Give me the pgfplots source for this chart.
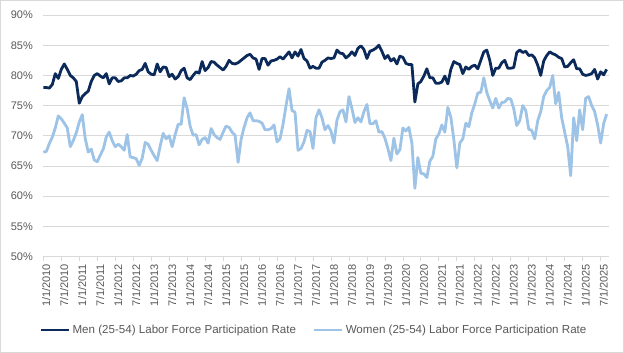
\documentclass[border=0pt]{standalone}
\usepackage{fontspec}
\setmainfont{Liberation Sans}
\usepackage{pgfplots}
\usepackage{pgfplotstable}
\pgfplotsset{compat=1.18}
\definecolor{men}{HTML}{0B2A5A}
\definecolor{women}{HTML}{9DC3E6}
\definecolor{gridc}{HTML}{D9D9D9}
\definecolor{txt}{HTML}{595959}

\pgfplotstableread{
m v
0 78.0
1 78.0
2 77.9
3 78.5
4 80.3
5 79.5
6 81.0
7 81.9
8 81.0
9 80.0
10 79.6
11 79.0
12 75.4
13 76.5
14 77.0
15 77.4
16 79.0
17 80.0
18 80.3
19 79.9
20 79.6
21 80.3
22 78.6
23 79.6
24 79.6
25 79.0
26 79.1
27 79.6
28 79.6
29 80.0
30 79.9
31 80.2
32 80.8
33 81.0
34 82.0
35 80.6
36 80.2
37 80.1
38 81.9
39 80.6
40 81.4
41 81.3
42 79.8
43 80.2
44 79.4
45 79.8
46 80.8
47 81.2
48 79.6
49 79.3
50 80.0
51 80.6
52 80.4
53 82.3
54 80.8
55 81.3
56 82.3
57 82.2
58 81.7
59 81.3
60 80.9
61 81.5
62 82.5
63 82.0
64 81.9
65 82.1
66 82.5
67 82.9
68 83.3
69 83.5
70 82.9
71 82.7
72 81.0
73 82.8
74 82.8
75 81.7
76 82.4
77 82.5
78 82.7
79 83.1
80 82.7
81 83.3
82 83.9
83 82.9
84 83.9
85 83.2
86 84.3
87 82.8
88 82.4
89 81.2
90 81.5
91 81.2
92 81.2
93 82.2
94 82.5
95 82.9
96 82.8
97 82.9
98 84.2
99 83.7
100 83.6
101 82.9
102 83.3
103 83.9
104 83.3
105 84.5
106 84.9
107 84.3
108 82.8
109 84.0
110 84.2
111 84.5
112 85.0
113 84.0
114 82.8
115 83.3
116 82.4
117 82.8
118 81.9
119 83.2
120 83.0
121 82.0
122 81.8
123 81.8
124 75.6
125 78.6
126 79.0
127 79.9
128 81.1
129 79.6
130 79.6
131 78.7
132 78.7
133 78.9
134 79.9
135 78.6
136 81.0
137 82.3
138 82.0
139 81.8
140 80.3
141 81.4
142 81.0
143 81.5
144 81.7
145 81.1
146 82.5
147 83.9
148 84.2
149 82.5
150 80.0
151 81.2
152 81.2
153 82.1
154 82.5
155 81.2
156 81.2
157 81.3
158 83.8
159 84.2
160 83.8
161 84.0
162 83.3
163 83.4
164 82.9
165 81.7
166 80.0
167 82.4
168 83.3
169 83.9
170 83.6
171 83.4
172 83.0
173 82.8
174 81.4
175 81.5
176 82.1
177 82.6
178 81.1
179 81.1
180 80.2
181 80.0
182 80.1
183 80.3
184 81.0
185 79.4
186 80.6
187 80.1
188 81.0
}\men

\pgfplotstableread{
m v
0 67.3
1 67.4
2 68.7
3 69.8
4 71.3
5 73.3
6 72.8
7 72.1
8 71.3
9 68.2
10 69.2
11 70.5
12 72.3
13 73.5
14 69.5
15 67.3
16 67.8
17 66.0
18 65.7
19 66.8
20 67.8
21 69.8
22 70.6
23 69.2
24 68.2
25 68.6
26 68.2
27 67.6
28 70.2
29 66.5
30 66.4
31 66.2
32 65.1
33 66.3
34 68.9
35 68.6
36 67.6
37 66.7
38 65.9
39 68.3
40 70.4
41 69.5
42 70.0
43 68.2
44 70.2
45 71.9
46 71.9
47 76.3
48 74.5
49 71.6
50 70.1
51 70.2
52 68.5
53 69.4
54 69.7
55 68.8
56 71.2
57 70.2
58 69.7
59 69.4
60 70.6
61 71.6
62 71.4
63 70.6
64 70.1
65 65.6
66 69.4
67 71.4
68 73.0
69 73.8
70 72.5
71 72.5
72 72.4
73 72.1
74 71.0
75 71.0
76 71.2
77 71.8
78 69.0
79 69.5
80 71.9
81 75.0
82 77.8
83 74.2
84 73.9
85 67.6
86 67.9
87 69.0
88 70.9
89 70.7
90 67.9
91 73.0
92 74.3
93 73.0
94 71.0
95 71.7
96 70.8
97 68.8
98 72.6
99 74.0
100 74.3
101 72.3
102 76.5
103 74.5
104 72.2
105 73.0
106 72.3
107 74.0
108 75.2
109 72.0
110 72.0
111 72.5
112 70.6
113 70.7
114 69.6
115 67.9
116 65.9
117 69.6
118 67.0
119 67.7
120 71.3
121 70.8
122 71.4
123 68.8
124 61.3
125 66.4
126 63.8
127 63.7
128 63.1
129 65.8
130 66.6
131 69.5
132 70.3
133 71.8
134 70.6
135 74.7
136 73.1
137 69.4
138 64.7
139 68.8
140 69.5
141 72.1
142 71.5
143 73.8
144 75.3
145 77.1
146 77.2
147 79.6
148 77.2
149 75.8
150 74.6
151 76.2
152 74.6
153 75.5
154 75.6
155 76.2
156 76.1
157 74.5
158 71.7
159 72.5
160 75.0
161 74.2
162 71.1
163 70.9
164 69.5
165 72.5
166 74.0
167 76.5
168 77.5
169 78.0
170 80.0
171 75.3
172 77.2
173 73.0
174 70.6
175 68.2
176 63.4
177 73.0
178 69.2
179 74.3
180 71.0
181 76.2
182 76.5
183 75.0
184 74.0
185 71.8
186 68.8
187 72.0
188 73.6
}\women

\begin{document}
\begin{tikzpicture}
\fill[white] (-43bp,-95.5bp) rectangle (581bp,256.5bp);
\begin{axis}[
  at={(0,0)}, anchor=south west,
  scale only axis,
  width=566bp, height=241.8bp,
  xmin=0, xmax=188.67,
  ymin=50, ymax=90,
  ytick={50,55,...,90},
  yticklabel={\pgfmathprintnumber{\tick}\%},
  /pgf/number format/assume math mode=true,
  xtick={0,6,...,186},
  xticklabels={1/1/2010,7/1/2010,1/1/2011,7/1/2011,1/1/2012,7/1/2012,1/1/2013,7/1/2013,1/1/2014,7/1/2014,1/1/2015,7/1/2015,1/1/2016,7/1/2016,1/1/2017,7/1/2017,1/1/2018,7/1/2018,1/1/2019,7/1/2019,1/1/2020,7/1/2020,1/1/2021,7/1/2021,1/1/2022,7/1/2022,1/1/2023,7/1/2023,1/1/2024,7/1/2024,1/1/2025,7/1/2025},
  xticklabel style={font=\fontsize{11bp}{13bp}\selectfont, text=txt, xshift=3bp, rotate=90, anchor=east},
  yticklabel style={font=\fontsize{11bp}{13bp}\selectfont, text=txt, xshift=-3bp},
  ymajorgrids,
  grid style={gridc, line width=0.75bp},
  axis x line*=bottom,
  axis y line*=left,
  x axis line style={gridc, line width=0.75bp, -},
  y axis line style={draw=none},
  ytick style={draw=none},
  xtick style={gridc, line width=0.75bp},
  tick align=outside,
  major tick length=4bp,
  clip=false,
  legend style={
    at={(0.479,-0.304)}, anchor=center,
    draw=none, fill=none,
    font=\fontsize{11.6bp}{13bp}\selectfont, text=txt,
    legend columns=2,
    /tikz/every even column/.append style={column sep=15bp},
    inner sep=0pt,
  },
  legend image code/.code={\draw[#1] (0bp,0bp) -- (28bp,0bp);},
]
\addplot[men, line width=2.8bp, line join=round] table[x=m, y=v] {\men};
\addlegendentry{Men (25-54) Labor Force Participation Rate}
\addplot[women, line width=2.8bp, line join=round] table[x=m, y=v] {\women};
\addlegendentry{Women (25-54) Labor Force Participation Rate}
\end{axis}
\draw[gridc, line width=0.75bp] (-43bp,-95.5bp) rectangle (581bp,256.5bp);
\end{tikzpicture}
\end{document}
